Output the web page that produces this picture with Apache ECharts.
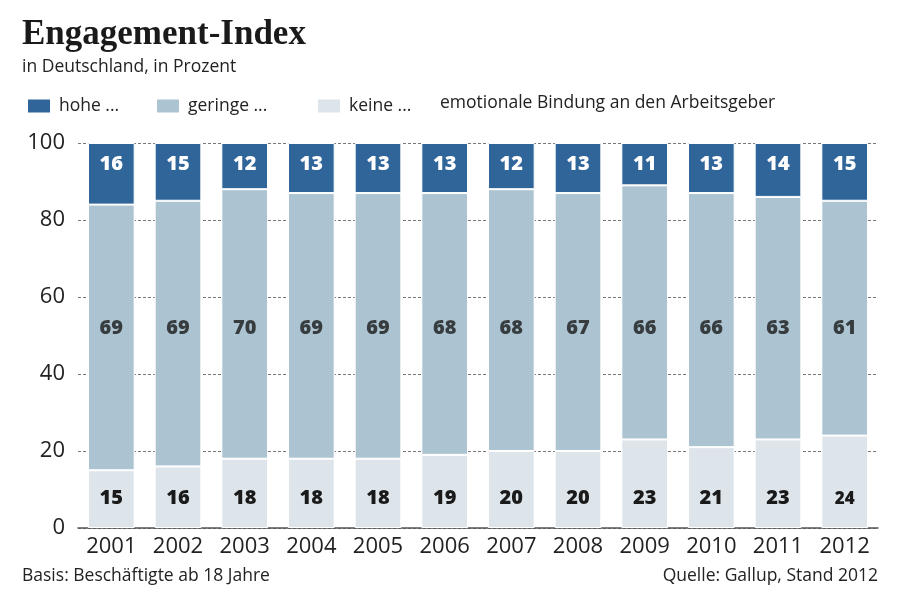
<!DOCTYPE html>
<html>
<head>
<meta charset="utf-8">
<script src="https://cdn.jsdelivr.net/npm/echarts@6/dist/echarts.min.js"></script>
<style>
  html, body { margin: 0; padding: 0; background: #fff; }
  #chart { width: 900px; height: 600px; }
</style>
</head>
<body>
<div id="chart"></div>
<script>
    // Jahre (Kategorien)
    var years = ['2001', '2002', '2003', '2004', '2005', '2006', '2007', '2008', '2009', '2010', '2011', '2012'];
    // keine emotionale Bindung
    var keine = [15, 16, 18, 18, 18, 19, 20, 20, 23, 21, 23, 24];
    // geringe emotionale Bindung
    var geringe = [69, 69, 70, 69, 69, 68, 68, 67, 66, 66, 63, 61];
    // hohe emotionale Bindung
    var hohe = [16, 15, 12, 13, 13, 13, 12, 13, 11, 13, 14, 15];
    var legendNames = ['hohe ...', 'geringe ...', 'keine ...'];

    var SANS = '"Open Sans", "Noto Sans", sans-serif';
    var colors = { hohe: '#30659a', geringe: '#acc4d2', keine: '#dde4ea' };

    // Label-Zeile fuer "geringe" liegt bei allen Saeulen auf gleicher Hoehe
    var GERINGE_LABEL_Y = 52;

    var labelStyle = {
        show: true,
        fontFamily: SANS,
        fontWeight: 800,
        fontSize: 20,
        color: '#1a1a1a'
    };

    var textStyle = { fontFamily: SANS, fontWeight: 'normal', fontSize: 17.5, color: '#222' };

    // eine Legende pro Eintrag, damit die Abstaende wie im Original sitzen
    var legendLeft = [21, 150, 311];
    var legends = legendNames.map(function (name, i) {
        return {
            data: [name],
            left: legendLeft[i], top: 92,
            itemWidth: 24, itemHeight: 15,
            itemGap: 0,
            icon: 'rect',
            textStyle: Object.assign({}, textStyle, { padding: [0, 0, 0, 3] }),
            selectedMode: false
        };
    });

    // 2012: "24" ist im Original kleiner gesetzt
    var keineData = keine.map(function (v, i) {
        return i === keine.length - 1 ? { value: v, label: { fontSize: 17 } } : v;
    });

    var option = {
        animation: false,
        backgroundColor: '#fff',
        title: [
            {
                text: 'Engagement-Index',
                left: 17, top: 12,
                textStyle: { fontFamily: '"Liberation Serif", serif', fontWeight: 'bold', fontSize: 35, color: '#1a1a1a' }
            },
            {
                text: 'in Deutschland, in Prozent',
                left: 17, top: 53,
                textStyle: textStyle
            },
            {
                text: 'emotionale Bindung an den Arbeitsgeber',
                left: 435, top: 89,
                textStyle: textStyle
            },
            {
                text: 'Basis: Beschäftigte ab 18 Jahre',
                left: 17, top: 562,
                textStyle: textStyle
            },
            {
                text: 'Quelle: Gallup, Stand 2012',
                right: 17, top: 562,
                textStyle: textStyle
            }
        ],
        legend: legends,
        grid: { left: 78, right: 22, top: 143, bottom: 72 },
        xAxis: {
            type: 'category',
            data: years,
            axisLine: { show: true, lineStyle: { color: '#555', width: 1.5 } },
            axisTick: { show: false },
            axisLabel: { interval: 0, hideOverlap: false, fontFamily: SANS, fontSize: 22, color: '#222', margin: 8 }
        },
        yAxis: {
            type: 'value',
            min: 0, max: 100, interval: 20,
            axisLine: { show: false },
            axisTick: { show: false },
            axisLabel: { fontFamily: SANS, fontSize: 22, color: '#222', margin: 13 },
            splitLine: { show: true, lineStyle: { color: '#777', type: [3, 2], width: 1 } }
        },
        series: [
            {
                name: 'keine ...',
                type: 'bar',
                stack: 'a',
                barWidth: '70%',
                data: keineData,
                itemStyle: { color: colors.keine, borderColor: '#fff', borderWidth: 1 },
                label: Object.assign({}, labelStyle, { position: 'insideBottom', distance: 20 })
            },
            {
                name: 'geringe ...',
                type: 'bar',
                stack: 'a',
                data: geringe,
                itemStyle: { color: colors.geringe, borderColor: '#fff', borderWidth: 1 },
                label: { show: false }
            },
            {
                name: 'hohe ...',
                type: 'bar',
                stack: 'a',
                data: hohe,
                itemStyle: { color: colors.hohe, borderColor: '#fff', borderWidth: 1 },
                label: Object.assign({}, labelStyle, { position: 'insideTop', distance: 11, color: '#fff' })
            },
            // unsichtbare Hilfsreihe fuer die "geringe"-Beschriftung
            {
                name: 'geringe-label',
                type: 'scatter',
                symbolSize: 0,
                silent: true,
                z: 5,
                data: geringe.map(function () { return GERINGE_LABEL_Y; }),
                label: Object.assign({}, labelStyle, {
                    position: 'inside',
                    formatter: function (p) { return geringe[p.dataIndex]; }
                })
            }
        ]
    };

    var myChart = echarts.init(document.getElementById('chart'), null, { renderer: 'canvas' });
    myChart.setOption(option, true);
</script>
</body>
</html>
